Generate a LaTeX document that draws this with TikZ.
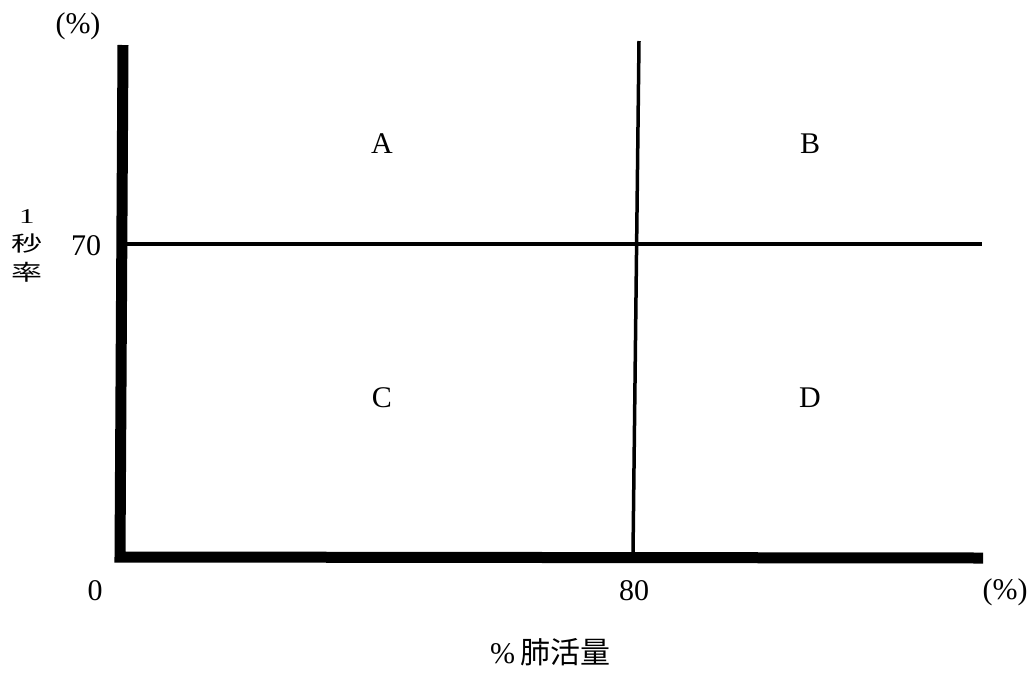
\documentclass[tikz,border=0pt]{standalone}
\usepackage{fontspec}
\setmainfont{Liberation Serif}
\newfontfamily\cjk{Noto Sans CJK JP}
\begin{document}
\begin{tikzpicture}[x=1pt,y=-1pt,
  lbl/.style={inner sep=0pt,font=\fontsize{30}{36}\selectfont},
  ylbl/.style={inner sep=0pt,font=\fontsize{31}{36}\selectfont},
  axis/.style={line width=11pt,line join=miter},
  grid/.style={line width=3.5pt}]
\useasboundingbox (0,0) rectangle (1036,673);
% coordinates
\coordinate (ytop) at (123,45);
\coordinate (corner) at (120,557);
\coordinate (xend) at (983,558);
\coordinate (vtop) at (639,41);
\coordinate (vbot) at (633,553);
\coordinate (hl) at (126,244);
\coordinate (hr) at (982,244);
% axes
\draw[axis] (ytop) -- (corner) -- (xend);
\draw[grid] (vtop) -- (vbot);
\draw[grid] (hl) -- (hr);
% labels
\node[lbl] (ypct) at (78,26) {(\%)};
\node[ylbl] (y1) at (27,217) {\scalebox{1}[0.68]{1}};
\node[ylbl] (y2) at (27,243) {\scalebox{1}[0.68]{\cjk 秒}};
\node[ylbl] (y3) at (27,272) {\scalebox{1}[0.7]{\cjk 率}};
\node[lbl] (t70) at (86,246) {70};
\node[lbl] (A) at (382,144) {A};
\node[lbl] (B) at (810,144) {B};
\node[lbl] (C) at (382,398) {C};
\node[lbl] (D) at (810,398) {D};
\node[lbl] (t0) at (95,591) {0};
\node[lbl] (t80) at (634,591) {80};
\node[lbl] (xpct) at (1005,592) {(\%)};
\node[lbl] (xlab) at (550,652) {\%\,{\cjk 肺活量}};
\end{tikzpicture}
\end{document}
